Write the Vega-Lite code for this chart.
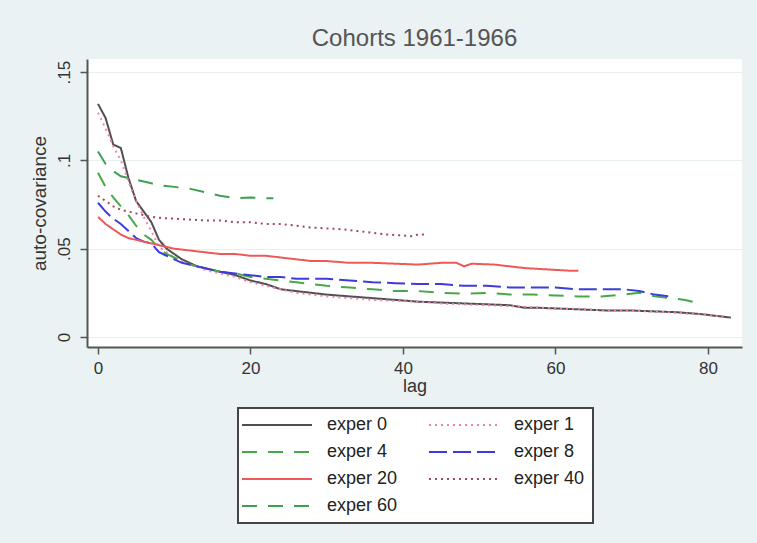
{
  "$schema": "https://vega.github.io/schema/vega-lite/v6.json",
  "width": 655,
  "height": 288,
  "autosize": "none",
  "padding": {"left": 87, "top": 59, "right": 15, "bottom": 196},
  "background": "#eaf2f3",
  "title": {"text": "Cohorts 1961-1966", "fontSize": 24, "font": "Liberation Sans", "fontWeight": "normal", "color": "#555555", "anchor": "middle", "offset": 8},
  "config": {
    "view": {"fill": "white", "stroke": null},
    "font": "Liberation Sans",
    "legend": {"strokeWidth": 2},
    "axis": {"domainColor": "#555555", "domainWidth": 2, "tickColor": "#555555", "tickWidth": 1.5, "tickSize": 7, "labelFont": "Liberation Sans", "titleFont": "Liberation Sans", "labelColor": "#333333", "titleColor": "#333333", "titleFontWeight": "normal"}
  },
  "data": {"values": [
    {"series":"exper 0","lag":0,"value":0.132},{"series":"exper 0","lag":1,"value":0.124},{"series":"exper 0","lag":2,"value":0.109},{"series":"exper 0","lag":3,"value":0.107},{"series":"exper 0","lag":4,"value":0.090},{"series":"exper 0","lag":5,"value":0.077},{"series":"exper 0","lag":6,"value":0.071},{"series":"exper 0","lag":7,"value":0.065},{"series":"exper 0","lag":8,"value":0.055},{"series":"exper 0","lag":9,"value":0.050},{"series":"exper 0","lag":10,"value":0.047},{"series":"exper 0","lag":11,"value":0.044},{"series":"exper 0","lag":12,"value":0.042},{"series":"exper 0","lag":13,"value":0.040},{"series":"exper 0","lag":14,"value":0.039},{"series":"exper 0","lag":15,"value":0.038},{"series":"exper 0","lag":16,"value":0.037},{"series":"exper 0","lag":17,"value":0.036},{"series":"exper 0","lag":18,"value":0.035},{"series":"exper 0","lag":20,"value":0.032},{"series":"exper 0","lag":22,"value":0.030},{"series":"exper 0","lag":24,"value":0.027},{"series":"exper 0","lag":26,"value":0.026},{"series":"exper 0","lag":28,"value":0.025},{"series":"exper 0","lag":30,"value":0.024},{"series":"exper 0","lag":33,"value":0.023},{"series":"exper 0","lag":36,"value":0.022},{"series":"exper 0","lag":39,"value":0.021},{"series":"exper 0","lag":42,"value":0.020},{"series":"exper 0","lag":45,"value":0.0195},{"series":"exper 0","lag":48,"value":0.019},{"series":"exper 0","lag":51,"value":0.0185},{"series":"exper 0","lag":54,"value":0.018},{"series":"exper 0","lag":56,"value":0.0165},{"series":"exper 0","lag":58,"value":0.0165},{"series":"exper 0","lag":61,"value":0.016},{"series":"exper 0","lag":64,"value":0.0155},{"series":"exper 0","lag":67,"value":0.015},{"series":"exper 0","lag":70,"value":0.015},{"series":"exper 0","lag":73,"value":0.0145},{"series":"exper 0","lag":76,"value":0.014},{"series":"exper 0","lag":79,"value":0.013},{"series":"exper 0","lag":81,"value":0.012},{"series":"exper 0","lag":83,"value":0.011},
    {"series":"exper 1","lag":0,"value":0.127},{"series":"exper 1","lag":1,"value":0.118},{"series":"exper 1","lag":2,"value":0.108},{"series":"exper 1","lag":3,"value":0.100},{"series":"exper 1","lag":4,"value":0.088},{"series":"exper 1","lag":5,"value":0.077},{"series":"exper 1","lag":6,"value":0.068},{"series":"exper 1","lag":7,"value":0.060},{"series":"exper 1","lag":8,"value":0.051},{"series":"exper 1","lag":9,"value":0.048},{"series":"exper 1","lag":10,"value":0.045},{"series":"exper 1","lag":11,"value":0.043},{"series":"exper 1","lag":12,"value":0.041},{"series":"exper 1","lag":13,"value":0.040},{"series":"exper 1","lag":14,"value":0.038},{"series":"exper 1","lag":15,"value":0.037},{"series":"exper 1","lag":16,"value":0.036},{"series":"exper 1","lag":18,"value":0.034},{"series":"exper 1","lag":20,"value":0.031},{"series":"exper 1","lag":22,"value":0.029},{"series":"exper 1","lag":24,"value":0.027},{"series":"exper 1","lag":26,"value":0.025},{"series":"exper 1","lag":28,"value":0.024},{"series":"exper 1","lag":30,"value":0.023},{"series":"exper 1","lag":33,"value":0.022},{"series":"exper 1","lag":36,"value":0.021},{"series":"exper 1","lag":39,"value":0.0205},{"series":"exper 1","lag":42,"value":0.020},{"series":"exper 1","lag":45,"value":0.019},{"series":"exper 1","lag":48,"value":0.0185},{"series":"exper 1","lag":51,"value":0.018},{"series":"exper 1","lag":54,"value":0.0175},{"series":"exper 1","lag":57,"value":0.017},{"series":"exper 1","lag":60,"value":0.016},{"series":"exper 1","lag":63,"value":0.016},{"series":"exper 1","lag":66,"value":0.015},{"series":"exper 1","lag":69,"value":0.015},{"series":"exper 1","lag":72,"value":0.0145},{"series":"exper 1","lag":75,"value":0.014},{"series":"exper 1","lag":78,"value":0.013},{"series":"exper 1","lag":80,"value":0.0125},{"series":"exper 1","lag":82,"value":0.0115},
    {"series":"exper 4","lag":0,"value":0.093},{"series":"exper 4","lag":1,"value":0.085},{"series":"exper 4","lag":2,"value":0.079},{"series":"exper 4","lag":3,"value":0.074},{"series":"exper 4","lag":4,"value":0.069},{"series":"exper 4","lag":5,"value":0.063},{"series":"exper 4","lag":6,"value":0.058},{"series":"exper 4","lag":7,"value":0.055},{"series":"exper 4","lag":8,"value":0.050},{"series":"exper 4","lag":9,"value":0.047},{"series":"exper 4","lag":10,"value":0.045},{"series":"exper 4","lag":11,"value":0.043},{"series":"exper 4","lag":12,"value":0.041},{"series":"exper 4","lag":13,"value":0.040},{"series":"exper 4","lag":14,"value":0.039},{"series":"exper 4","lag":15,"value":0.038},{"series":"exper 4","lag":16,"value":0.037},{"series":"exper 4","lag":18,"value":0.036},{"series":"exper 4","lag":20,"value":0.034},{"series":"exper 4","lag":22,"value":0.033},{"series":"exper 4","lag":24,"value":0.032},{"series":"exper 4","lag":26,"value":0.031},{"series":"exper 4","lag":28,"value":0.030},{"series":"exper 4","lag":30,"value":0.029},{"series":"exper 4","lag":33,"value":0.028},{"series":"exper 4","lag":36,"value":0.027},{"series":"exper 4","lag":39,"value":0.026},{"series":"exper 4","lag":42,"value":0.026},{"series":"exper 4","lag":45,"value":0.025},{"series":"exper 4","lag":48,"value":0.0245},{"series":"exper 4","lag":51,"value":0.025},{"series":"exper 4","lag":54,"value":0.024},{"series":"exper 4","lag":57,"value":0.024},{"series":"exper 4","lag":60,"value":0.0235},{"series":"exper 4","lag":63,"value":0.023},{"series":"exper 4","lag":66,"value":0.023},{"series":"exper 4","lag":69,"value":0.024},{"series":"exper 4","lag":71,"value":0.025},{"series":"exper 4","lag":73,"value":0.023},{"series":"exper 4","lag":75,"value":0.022},{"series":"exper 4","lag":77,"value":0.021},{"series":"exper 4","lag":79,"value":0.019},
    {"series":"exper 8","lag":0,"value":0.076},{"series":"exper 8","lag":1,"value":0.071},{"series":"exper 8","lag":2,"value":0.067},{"series":"exper 8","lag":3,"value":0.064},{"series":"exper 8","lag":4,"value":0.060},{"series":"exper 8","lag":5,"value":0.056},{"series":"exper 8","lag":6,"value":0.054},{"series":"exper 8","lag":7,"value":0.053},{"series":"exper 8","lag":8,"value":0.048},{"series":"exper 8","lag":9,"value":0.046},{"series":"exper 8","lag":10,"value":0.044},{"series":"exper 8","lag":11,"value":0.042},{"series":"exper 8","lag":12,"value":0.041},{"series":"exper 8","lag":13,"value":0.040},{"series":"exper 8","lag":14,"value":0.039},{"series":"exper 8","lag":15,"value":0.038},{"series":"exper 8","lag":16,"value":0.037},{"series":"exper 8","lag":18,"value":0.036},{"series":"exper 8","lag":20,"value":0.035},{"series":"exper 8","lag":22,"value":0.034},{"series":"exper 8","lag":24,"value":0.034},{"series":"exper 8","lag":26,"value":0.033},{"series":"exper 8","lag":28,"value":0.033},{"series":"exper 8","lag":30,"value":0.033},{"series":"exper 8","lag":33,"value":0.032},{"series":"exper 8","lag":36,"value":0.031},{"series":"exper 8","lag":39,"value":0.0305},{"series":"exper 8","lag":42,"value":0.030},{"series":"exper 8","lag":45,"value":0.030},{"series":"exper 8","lag":48,"value":0.029},{"series":"exper 8","lag":51,"value":0.029},{"series":"exper 8","lag":54,"value":0.028},{"series":"exper 8","lag":57,"value":0.028},{"series":"exper 8","lag":60,"value":0.028},{"series":"exper 8","lag":63,"value":0.027},{"series":"exper 8","lag":66,"value":0.027},{"series":"exper 8","lag":69,"value":0.027},{"series":"exper 8","lag":71,"value":0.026},{"series":"exper 8","lag":73,"value":0.024},{"series":"exper 8","lag":75,"value":0.023},
    {"series":"exper 20","lag":0,"value":0.068},{"series":"exper 20","lag":1,"value":0.064},{"series":"exper 20","lag":2,"value":0.061},{"series":"exper 20","lag":3,"value":0.058},{"series":"exper 20","lag":4,"value":0.056},{"series":"exper 20","lag":5,"value":0.055},{"series":"exper 20","lag":6,"value":0.054},{"series":"exper 20","lag":7,"value":0.053},{"series":"exper 20","lag":8,"value":0.052},{"series":"exper 20","lag":9,"value":0.051},{"series":"exper 20","lag":10,"value":0.050},{"series":"exper 20","lag":12,"value":0.049},{"series":"exper 20","lag":14,"value":0.048},{"series":"exper 20","lag":16,"value":0.047},{"series":"exper 20","lag":18,"value":0.047},{"series":"exper 20","lag":20,"value":0.046},{"series":"exper 20","lag":22,"value":0.046},{"series":"exper 20","lag":24,"value":0.045},{"series":"exper 20","lag":26,"value":0.044},{"series":"exper 20","lag":28,"value":0.043},{"series":"exper 20","lag":30,"value":0.043},{"series":"exper 20","lag":33,"value":0.042},{"series":"exper 20","lag":36,"value":0.042},{"series":"exper 20","lag":39,"value":0.0415},{"series":"exper 20","lag":42,"value":0.041},{"series":"exper 20","lag":45,"value":0.042},{"series":"exper 20","lag":47,"value":0.042},{"series":"exper 20","lag":48,"value":0.040},{"series":"exper 20","lag":49,"value":0.0415},{"series":"exper 20","lag":52,"value":0.041},{"series":"exper 20","lag":54,"value":0.040},{"series":"exper 20","lag":56,"value":0.039},{"series":"exper 20","lag":58,"value":0.0385},{"series":"exper 20","lag":60,"value":0.038},{"series":"exper 20","lag":62,"value":0.0375},{"series":"exper 20","lag":63,"value":0.0375},
    {"series":"exper 40","lag":0,"value":0.080},{"series":"exper 40","lag":1,"value":0.077},{"series":"exper 40","lag":2,"value":0.074},{"series":"exper 40","lag":3,"value":0.072},{"series":"exper 40","lag":4,"value":0.071},{"series":"exper 40","lag":5,"value":0.070},{"series":"exper 40","lag":6,"value":0.069},{"series":"exper 40","lag":7,"value":0.068},{"series":"exper 40","lag":8,"value":0.0675},{"series":"exper 40","lag":10,"value":0.067},{"series":"exper 40","lag":12,"value":0.0665},{"series":"exper 40","lag":14,"value":0.066},{"series":"exper 40","lag":16,"value":0.066},{"series":"exper 40","lag":18,"value":0.065},{"series":"exper 40","lag":20,"value":0.065},{"series":"exper 40","lag":22,"value":0.064},{"series":"exper 40","lag":24,"value":0.064},{"series":"exper 40","lag":26,"value":0.063},{"series":"exper 40","lag":28,"value":0.062},{"series":"exper 40","lag":30,"value":0.0615},{"series":"exper 40","lag":32,"value":0.061},{"series":"exper 40","lag":34,"value":0.060},{"series":"exper 40","lag":36,"value":0.059},{"series":"exper 40","lag":38,"value":0.058},{"series":"exper 40","lag":40,"value":0.0575},{"series":"exper 40","lag":41,"value":0.057},{"series":"exper 40","lag":42,"value":0.058},{"series":"exper 40","lag":43,"value":0.058},
    {"series":"exper 60","lag":0,"value":0.105},{"series":"exper 60","lag":1,"value":0.098},{"series":"exper 60","lag":2,"value":0.094},{"series":"exper 60","lag":3,"value":0.091},{"series":"exper 60","lag":4,"value":0.090},{"series":"exper 60","lag":5,"value":0.089},{"series":"exper 60","lag":6,"value":0.088},{"series":"exper 60","lag":7,"value":0.087},{"series":"exper 60","lag":8,"value":0.086},{"series":"exper 60","lag":10,"value":0.085},{"series":"exper 60","lag":12,"value":0.084},{"series":"exper 60","lag":14,"value":0.082},{"series":"exper 60","lag":16,"value":0.080},{"series":"exper 60","lag":18,"value":0.0785},{"series":"exper 60","lag":20,"value":0.079},{"series":"exper 60","lag":22,"value":0.0785},{"series":"exper 60","lag":23,"value":0.0785}
  ]},
  "mark": {"type": "line", "strokeWidth": 2},
  "encoding": {
    "x": {"field": "lag", "type": "quantitative",
      "scale": {"domain": [-1.44, 84.46], "nice": false, "zero": false},
      "axis": {"values": [0, 20, 40, 60, 80], "title": "lag", "titleFontSize": 18, "titlePadding": 1, "labelFontSize": 17, "labelPadding": 6, "grid": false}},
    "y": {"field": "value", "type": "quantitative",
      "scale": {"domain": [-0.00566, 0.1574], "nice": false, "zero": false},
      "axis": {"values": [0, 0.05, 0.1, 0.15], "labelExpr": "replace(format(datum.value, '~g'), '0.', '.')", "labelAngle": -90, "labelFontSize": 17, "labelPadding": 7, "title": "auto-covariance", "titleFontSize": 19, "titlePadding": 6, "grid": true, "gridColor": "#e6eef0", "gridWidth": 1}},
    "color": {"field": "series", "type": "nominal",
      "scale": {"domain": ["exper 0", "exper 1", "exper 4", "exper 8", "exper 20", "exper 40", "exper 60"],
                "range": ["#505050", "#f080b4", "#48a848", "#3c3cdc", "#f05858", "#9c4a5c", "#3ea050"]},
      "legend": {"title": null, "orient": "none", "direction": "horizontal", "legendX": 151, "legendY": 349, "columns": 2,
        "symbolType": "M-5,0H5", "symbolSize": 196, "symbolStrokeWidth": 2, "symbolOffset": 22, "labelOffset": 41,
        "labelFontSize": 18, "labelFont": "Liberation Sans", "labelColor": "#222222",
        "rowPadding": 9, "columnPadding": 27, "padding": 8, "fillColor": "white", "strokeColor": "#444444"}},
    "strokeDash": {"field": "series", "type": "nominal",
      "scale": {"domain": ["exper 0", "exper 1", "exper 4", "exper 8", "exper 20", "exper 40", "exper 60"],
                "range": [[1, 0], [2, 4], [15, 11], [18, 6], [1, 0], [2, 4], [15, 11]]},
      "legend": {"title": null, "orient": "none", "direction": "horizontal", "legendX": 151, "legendY": 349, "columns": 2,
        "symbolType": "M-5,0H5", "symbolSize": 196, "symbolStrokeWidth": 2, "symbolOffset": 22, "labelOffset": 41,
        "labelFontSize": 18, "labelFont": "Liberation Sans", "labelColor": "#222222",
        "rowPadding": 9, "columnPadding": 27, "padding": 8, "fillColor": "white", "strokeColor": "#444444"}}
  }
}
